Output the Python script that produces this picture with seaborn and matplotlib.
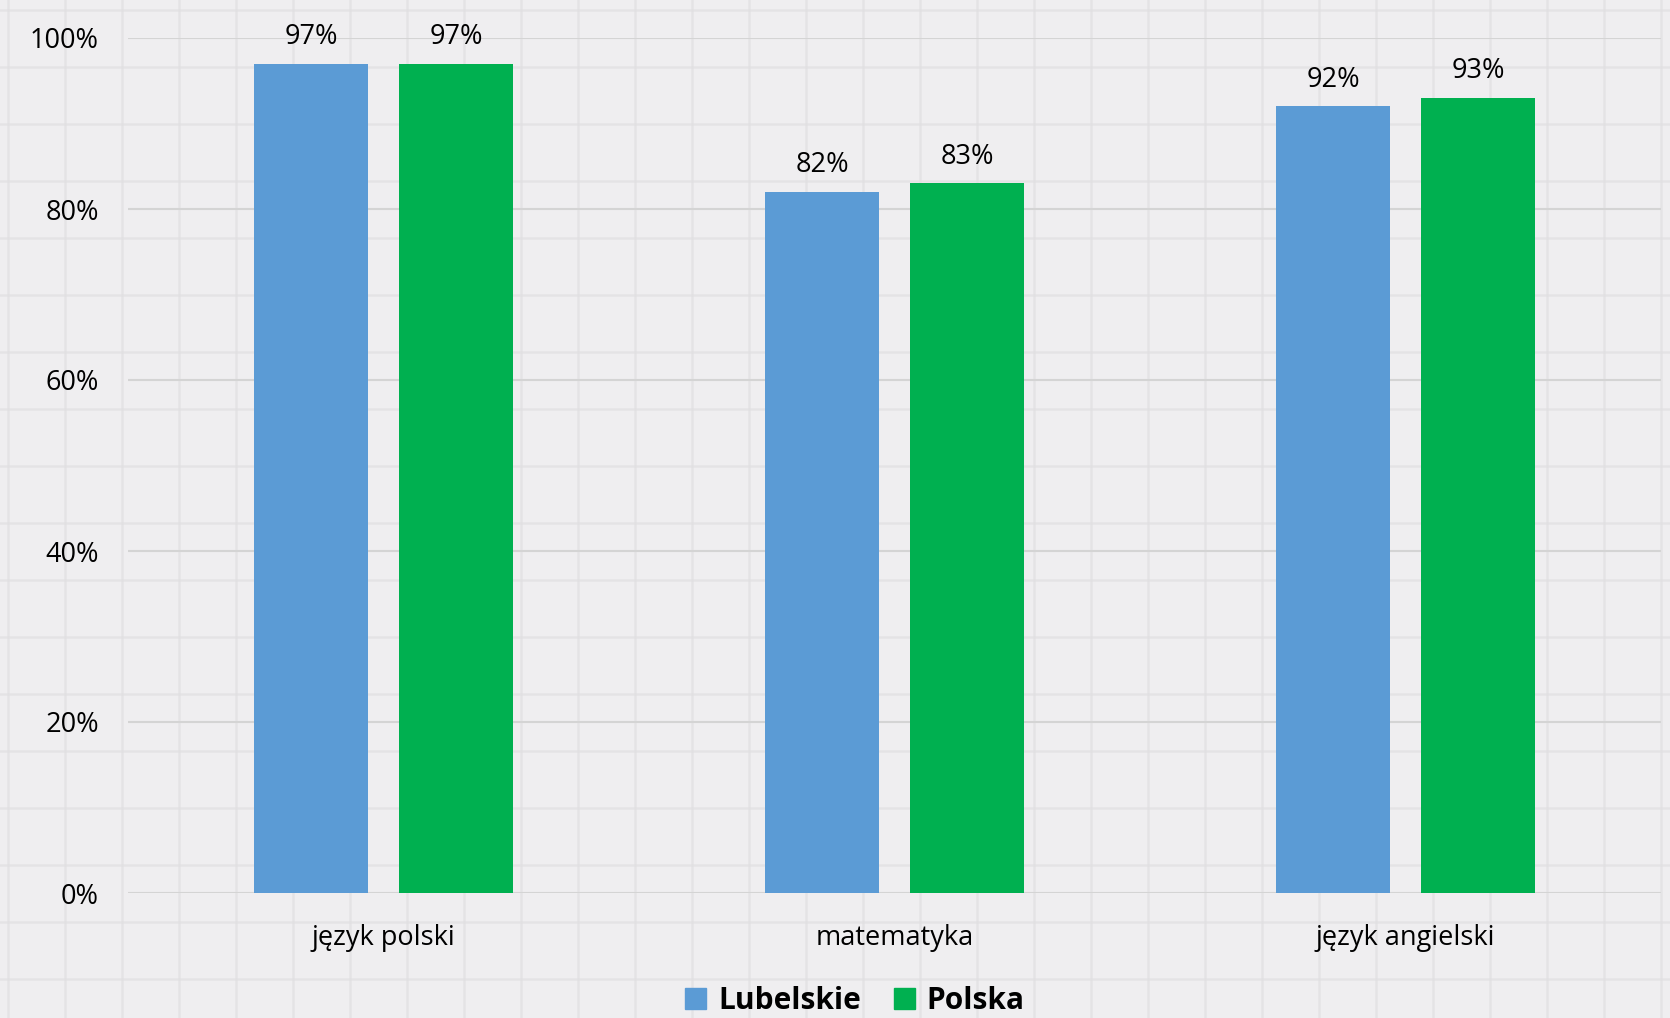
import numpy as np
import pandas as pd
import matplotlib
matplotlib.use("Agg")
import matplotlib.pyplot as plt
import seaborn as sns
from matplotlib.ticker import PercentFormatter

# Data
subjects = ["język polski", "matematyka", "język angielski"]
lubelskie = [0.97, 0.82, 0.92]
polska = [0.97, 0.83, 0.93]
series_names = ["Lubelskie", "Polska"]
colors = ["#5b9bd5", "#00b050"]

df = pd.DataFrame({
    "subject": subjects * 2,
    "value": lubelskie + polska,
    "series": [series_names[0]] * 3 + [series_names[1]] * 3,
})

sns.set_theme(style="white")
plt.rcParams["font.family"] = ["Open Sans", "DejaVu Sans"]

bg = "#efeef0"
fig = plt.figure(figsize=(16.7, 10.18), dpi=100, facecolor=bg)

# faint graph-paper texture behind the chart
paper = fig.add_axes([0, 0, 1, 1], zorder=-10)
paper.set_facecolor(bg)
for x in np.arange(8, 1670, 57):
    paper.axvline(x, color="#e0dfe1", lw=1.8, alpha=0.7)
for y in np.arange(10, 1018, 57):
    paper.axhline(y, color="#e0dfe1", lw=1.8, alpha=0.7)
paper.set_xlim(0, 1670)
paper.set_ylim(1018, 0)
paper.axis("off")

ax = fig.add_axes([128 / 1670, 1 - 893 / 1018, 1533 / 1670, (893 - 38) / 1018])
ax.patch.set_alpha(0)

sns.barplot(data=df, x="subject", y="value", hue="series", palette=colors,
            width=0.567, gap=0.21, saturation=1, linewidth=0, ax=ax, legend=True)

for cont in ax.containers:
    ax.bar_label(cont, labels=[f"{v * 100:.0f}%" for v in cont.datavalues],
                 padding=9, fontsize=19.5, color="#000000")

ax.set_ylim(0, 1.0)
ax.set_xlim(-0.5, 2.5)
ax.set_yticks(np.arange(0, 1.01, 0.2))
ax.yaxis.set_major_formatter(PercentFormatter(1.0, decimals=0))
ax.grid(axis="y", color="#d4d4d4", lw=1.5)
ax.set_axisbelow(True)
for s in ax.spines.values():
    s.set_visible(False)
ax.tick_params(axis="y", labelsize=19.5, pad=21, length=0, colors="#000000")
ax.tick_params(axis="x", labelsize=19.5, pad=22, length=0, colors="#000000")
ax.set_xlabel("")
ax.set_ylabel("")

ax.legend_.remove()
handles = [plt.Rectangle((0, 0), 1, 1, color=c) for c in colors]
fig.legend(handles, series_names, loc="center", bbox_to_anchor=(855 / 1670, 1 - 1001 / 1018),
           ncol=2, frameon=False, prop={"weight": "bold", "size": 21.5},
           handlelength=0.7, handleheight=0.7, handletextpad=0.4, columnspacing=1.1,
           labelcolor="#000000")

fig.savefig("out.png", dpi=100, facecolor=bg)
